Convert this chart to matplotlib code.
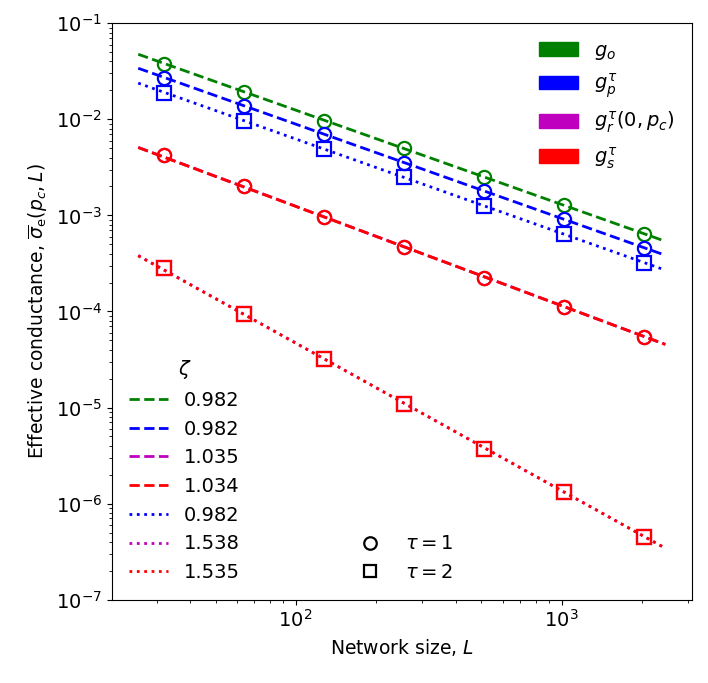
import numpy as np
import matplotlib
matplotlib.use("Agg")
import matplotlib.pyplot as plt
import matplotlib.patches as mpatches
from matplotlib.lines import Line2D

# network sizes
L = np.array([32, 64, 128, 256, 512, 1024, 2048])

# tau = 1 (circles, dashed fits)
g_o_t1 = [0.0377, 0.0194, 0.0097, 0.0050, 0.0025, 0.00129, 0.00064]
g_p_t1 = [0.0268, 0.0138, 0.0070, 0.00354, 0.00180, 0.00092, 0.000462]
g_r_t1 = [0.00427, 0.00201, 0.000960, 0.000467, 0.000222, 0.000111, 5.4e-5]
g_s_t1 = [0.00426, 0.00200, 0.000958, 0.000467, 0.000222, 0.000111, 5.4e-5]

# tau = 2 (squares, dotted fits)
g_p_t2 = [0.0187, 0.0097, 0.00489, 0.0025, 0.00126, 0.00064, 0.000323]
g_r_t2 = [2.84e-4, 9.45e-5, 3.20e-5, 1.09e-5, 3.72e-6, 1.32e-6, 4.47e-7]
g_s_t2 = [2.82e-4, 9.37e-5, 3.19e-5, 1.09e-5, 3.72e-6, 1.32e-6, 4.48e-7]

# fitted exponents shown in legend
zeta = {"o1": 0.982, "p1": 0.982, "r1": 1.035, "s1": 1.034,
        "p2": 0.982, "r2": 1.538, "s2": 1.535}

plt.rcParams["font.size"] = 14

fig = plt.figure(figsize=(7.08, 6.83), dpi=100)
ax = fig.add_axes([0.158, 0.122, 0.819, 0.844])

L_fit = np.array([0.8 * L[0], 1.2 * L[-1]])


def fit_line(y, z):
    # intercept for a power law with fixed exponent z
    c = np.mean(np.log10(y) + z * np.log10(L))
    return 10 ** (c - z * np.log10(L_fit))


series = [
    (g_o_t1, "g", "o", "--", zeta["o1"]),
    (g_p_t1, "b", "o", "--", zeta["p1"]),
    (g_r_t1, "m", "o", "--", zeta["r1"]),
    (g_s_t1, "r", "o", "--", zeta["s1"]),
    (g_p_t2, "b", "s", ":", zeta["p2"]),
    (g_r_t2, "m", "s", ":", zeta["r2"]),
    (g_s_t2, "r", "s", ":", zeta["s2"]),
]

line_handles = []
for y, c, mk, ls, z in series:
    ax.plot(L, y, linestyle="none", marker=mk, ms=9.5, mfc="none", mec=c, mew=1.6)
    h, = ax.plot(L_fit, fit_line(y, z), ls, color=c, lw=2, label="%.3f" % z)
    line_handles.append(h)

ax.set_xscale("log")
ax.set_yscale("log")
ax.set_ylim(1e-7, 1e-1)
ax.set_xlabel("Network size, $L$", fontsize=13.5)
ax.set_ylabel(r"Effective conductance, $\overline{\sigma}_{\mathrm{e}}(p_c, L)$", fontsize=13.5)

leg1 = ax.legend(handles=line_handles, title=r"$\zeta$", loc="lower left", frameon=False)
ax.add_artist(leg1)

patches = [mpatches.Patch(color="g", label="$g_o$"),
           mpatches.Patch(color="b", label=r"$g_p^\tau$"),
           mpatches.Patch(color="m", label=r"$g_r^\tau(0, p_c)$"),
           mpatches.Patch(color="r", label=r"$g_s^\tau$")]
leg2 = ax.legend(handles=patches, loc="upper right", frameon=False)
ax.add_artist(leg2)

markers = [Line2D([], [], ls="none", marker="o", ms=9, mfc="none", mec="k", mew=1.6, label=r"$\tau = 1$"),
           Line2D([], [], ls="none", marker="s", ms=9, mfc="none", mec="k", mew=1.6, label=r"$\tau = 2$")]
ax.legend(handles=markers, loc="lower center", frameon=False)

plt.savefig("out.png", dpi=100)
